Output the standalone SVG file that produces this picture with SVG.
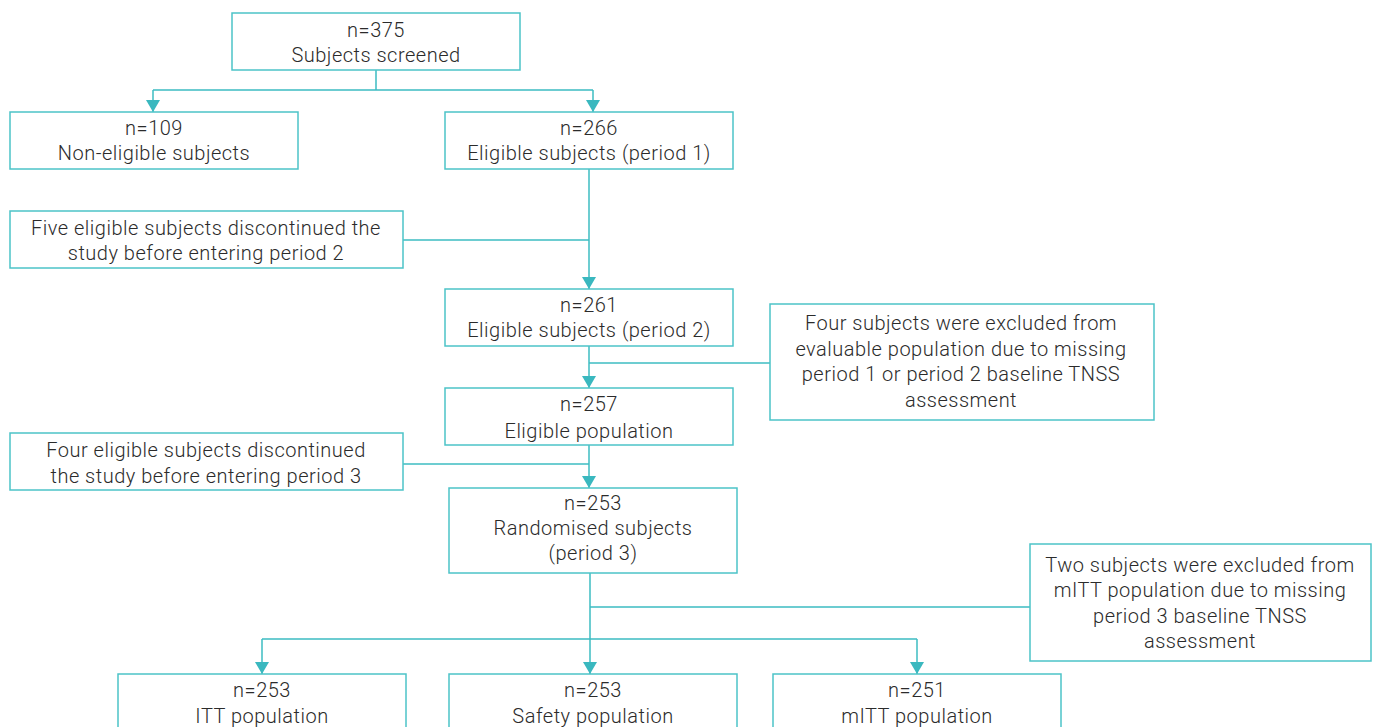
<svg xmlns="http://www.w3.org/2000/svg" width="1374" height="727" viewBox="0 0 1374 727">
<style>
.box{fill:#fff;stroke:#4cc3c8;stroke-width:1.5}
.ln{fill:none;stroke:#3dbcc2;stroke-width:1.5}
text{font-family:Roboto,"Liberation Sans",sans-serif;font-size:20px;font-weight:300;letter-spacing:0.5px;fill:#2b2b2b;text-anchor:middle}
</style>
<defs>
<marker id="a" markerUnits="userSpaceOnUse" markerWidth="12" markerHeight="14" refX="12" refY="7" orient="auto" viewBox="0 0 12 14">
<path d="M0 0 L12 7 L0 14 Z" fill="#3ab8bf"/>
</marker>
</defs>
<rect width="1374" height="727" fill="#fff"/>
<g id="connectors">
<path class="ln" d="M376 70 V90 M153 90 H593"/>
<path class="ln" d="M153 90 V112" marker-end="url(#a)"/>
<path class="ln" d="M593 90 V112" marker-end="url(#a)"/>
<path class="ln" d="M589 169 V289" marker-end="url(#a)"/>
<path class="ln" d="M403 240 H589"/>
<path class="ln" d="M589 346 V388" marker-end="url(#a)"/>
<path class="ln" d="M770 363 H589"/>
<path class="ln" d="M589 445 V488" marker-end="url(#a)"/>
<path class="ln" d="M403 464 H589"/>
<path class="ln" d="M590 573 V674" marker-end="url(#a)"/>
<path class="ln" d="M590 607 H1030 M262 639 H917"/>
<path class="ln" d="M262 639 V674" marker-end="url(#a)"/>
<path class="ln" d="M917 639 V674" marker-end="url(#a)"/>
</g>
<g id="screened"><rect class="box" x="232" y="13" width="288" height="57"/><text x="376" y="37">n=375</text><text x="376" y="62">Subjects screened</text></g>
<g id="noneligible"><rect class="box" x="10" y="112" width="288" height="57"/><text x="154" y="135">n=109</text><text x="154" y="160">Non-eligible subjects</text></g>
<g id="eligible1"><rect class="box" x="445" y="112" width="288" height="57"/><text x="589" y="135">n=266</text><text x="589" y="160">Eligible subjects (period 1)</text></g>
<g id="discont2"><rect class="box" x="10" y="211" width="393" height="57"/><text x="206" y="235">Five eligible subjects discontinued the</text><text x="206" y="260">study before entering period 2</text></g>
<g id="eligible2"><rect class="box" x="445" y="289" width="288" height="57"/><text x="589" y="312">n=261</text><text x="589" y="337">Eligible subjects (period 2)</text></g>
<g id="excluded1"><rect class="box" x="770" y="304" width="384" height="116"/><text x="961" y="330">Four subjects were excluded from</text><text x="961" y="356">evaluable population due to missing</text><text x="961" y="381">period 1 or period 2 baseline TNSS</text><text x="961" y="407">assessment</text></g>
<g id="eligiblepop"><rect class="box" x="445" y="388" width="288" height="57"/><text x="589" y="411">n=257</text><text x="589" y="438">Eligible population</text></g>
<g id="discont3"><rect class="box" x="10" y="433" width="393" height="57"/><text x="206" y="457">Four eligible subjects discontinued</text><text x="206" y="483">the study before entering period 3</text></g>
<g id="randomised"><rect class="box" x="449" y="488" width="288" height="85"/><text x="593" y="510">n=253</text><text x="593" y="535">Randomised subjects</text><text x="593" y="560">(period 3)</text></g>
<g id="excluded2"><rect class="box" x="1030" y="544" width="341" height="117"/><text x="1200" y="572">Two subjects were excluded from</text><text x="1200" y="597">mITT population due to missing</text><text x="1200" y="623">period 3 baseline TNSS</text><text x="1200" y="648">assessment</text></g>
<g id="itt"><rect class="box" x="118" y="674" width="288" height="60"/><text x="262" y="697">n=253</text><text x="262" y="723">ITT population</text></g>
<g id="safety"><rect class="box" x="449" y="674" width="288" height="60"/><text x="593" y="697">n=253</text><text x="593" y="723">Safety population</text></g>
<g id="mitt"><rect class="box" x="773" y="674" width="288" height="60"/><text x="917" y="697">n=251</text><text x="917" y="723">mITT population</text></g>
</svg>
